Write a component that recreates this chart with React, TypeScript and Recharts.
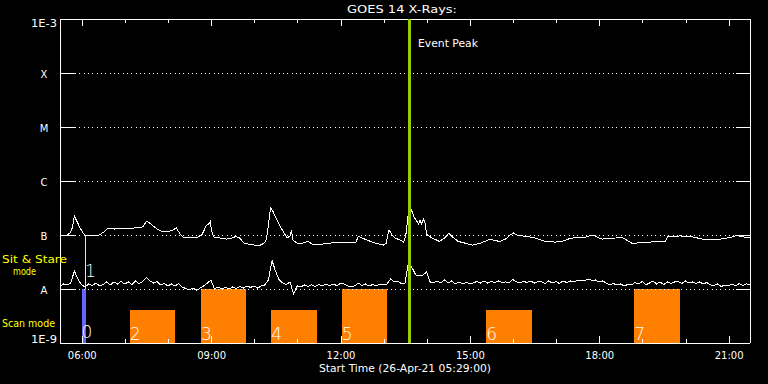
import { ComposedChart, Line, ReferenceArea, ReferenceLine, XAxis, YAxis } from 'recharts';

const FONT = '"DejaVu Sans", sans-serif';

const START = '05:29';
const END = '21:29';
const SHORT_STEP_MIN = 5;

const levelValues = [1e-9, 1e-8, 1e-7, 1e-6, 1e-5, 1e-4, 1e-3];
const levelLabels = ['1E-9', 'A', 'B', 'C', 'M', 'X', '1E-3'];
const hourMarks = [6, 7, 8, 9, 10, 11, 12, 13, 14, 15, 16, 17, 18, 19, 20, 21];
const hourLabels = [6, 9, 12, 15, 18, 21];

// 1-8 A channel, in units of 1e-7 W/m^2
const longChannel: [string, number][] = [
  ['05:29', 1.0], ['05:37', 0.96], ['05:43', 1.09], ['05:46', 1.35], ['05:49', 2.25], ['05:53', 1.74],
  ['05:57', 1.35], ['06:01', 1.09], ['06:04', 1.0], ['06:13', 0.98], ['06:24', 1.0], ['06:30', 1.14],
  ['06:36', 1.35], ['06:45', 1.29], ['06:59', 1.32], ['07:13', 1.35], ['07:24', 1.41], ['07:30', 1.82],
  ['07:37', 1.53], ['07:44', 1.29], ['07:51', 1.16], ['07:59', 1.14], ['08:06', 1.24], ['08:11', 1.35],
  ['08:16', 1.04], ['08:21', 0.9], ['08:30', 0.88], ['08:39', 0.88], ['08:47', 1.04], ['08:53', 1.53],
  ['08:56', 1.6], ['08:58', 1.78], ['09:00', 1.19], ['09:03', 0.92], ['09:12', 0.88], ['09:21', 0.84],
  ['09:28', 0.88], ['09:34', 0.94], ['09:39', 0.88], ['09:45', 0.71], ['09:53', 0.67], ['10:00', 0.65],
  ['10:07', 0.64], ['10:13', 0.71], ['10:16', 0.81], ['10:18', 1.24], ['10:22', 3.16], ['10:25', 2.78],
  ['10:29', 2.15], ['10:35', 1.47], ['10:40', 1.14], ['10:45', 0.88], ['10:49', 0.96], ['10:51', 1.21],
  ['10:53', 0.81], ['10:59', 0.7], ['11:07', 0.71], ['11:14', 0.76], ['11:21', 0.67], ['11:31', 0.67],
  ['11:45', 0.71], ['11:58', 0.72], ['12:12', 0.72], ['12:21', 0.74], ['12:24', 0.96], ['12:26', 0.92],
  ['12:33', 0.84], ['12:40', 0.77], ['12:49', 0.7], ['12:59', 0.65], ['13:03', 0.71], ['13:06', 1.14],
  ['13:07', 1.24], ['13:11', 1.0], ['13:15', 0.88], ['13:22', 0.81], ['13:27', 0.74], ['13:30', 0.96],
  ['13:32', 1.6], ['13:35', 3.67], ['13:38', 2.9], ['13:41', 2.25], ['13:45', 1.82], ['13:48', 1.6],
  ['13:50', 1.9], ['13:52', 1.6], ['13:55', 1.98], ['13:57', 1.67], ['13:59', 1.04], ['14:03', 0.94],
  ['14:10', 0.84], ['14:17', 0.76], ['14:24', 0.88], ['14:30', 1.07], ['14:35', 0.92], ['14:43', 0.76],
  ['14:52', 0.71], ['15:03', 0.65], ['15:13', 0.7], ['15:21', 0.77], ['15:27', 0.83], ['15:34', 0.79],
  ['15:41', 0.76], ['15:49', 0.84], ['15:55', 1.0], ['16:00', 1.09], ['16:06', 0.98], ['16:18', 0.94],
  ['16:30', 0.88], ['16:44', 0.76], ['16:58', 0.74], ['17:09', 0.77], ['17:18', 0.86], ['17:28', 0.9],
  ['17:39', 0.9], ['17:45', 0.96], ['17:51', 1.0], ['17:57', 0.9], ['18:03', 0.84], ['18:14', 0.86],
  ['18:22', 0.88], ['18:31', 0.9], ['18:37', 0.81], ['18:45', 0.7], ['18:52', 0.71], ['19:00', 0.74],
  ['19:10', 0.74], ['19:21', 0.76], ['19:31', 0.76], ['19:35', 0.96], ['19:45', 0.92], ['19:51', 0.96],
  ['20:07', 0.94], ['20:19', 0.86], ['20:30', 0.81], ['20:41', 0.81], ['20:53', 0.86], ['21:02', 0.9],
  ['21:11', 0.98], ['21:20', 0.92], ['21:29', 0.88],
];

// 0.5-4 A channel, one sample every 5 min from 05:29, in units of 1e-8 W/m^2
const shortChannel = [
  1.14, 1.24, 1.19, 1.29, 2.15, 1.53, 1.19, 1.09, 1.24, 1.16,
  1.29, 1.14, 1.21, 1.35, 1.19, 1.35, 1.24, 1.38, 1.24, 1.35,
  1.21, 1.41, 1.26, 1.38, 1.63, 1.41, 1.29, 1.38, 1.19, 1.26,
  1.14, 1.24, 1.14, 1.26, 1.09, 1.02, 0.96, 1.04, 0.94, 1.04,
  1.14, 1.29, 1.47, 1.0, 1.09, 1.0, 1.07, 1.0, 1.09, 1.02,
  1.11, 1.04, 1.14, 1.07, 1.14, 1.04, 1.14, 1.19, 1.47, 3.37,
  2.11, 1.47, 1.29, 1.21, 1.35, 0.81, 1.14, 1.09, 1.19, 1.11,
  1.19, 1.11, 1.21, 1.14, 1.24, 1.14, 1.24, 1.16, 1.26, 1.24,
  1.14, 1.09, 1.14, 1.29, 1.16, 1.24, 1.14, 1.21, 1.14, 1.24,
  1.19, 1.24, 1.53, 1.35, 1.41, 1.26, 1.29, 3.3, 2.45, 1.82,
  1.74, 1.82, 2.06, 1.35, 1.32, 1.38, 1.29, 1.47, 1.29, 1.41,
  1.24, 1.35, 1.24, 1.32, 1.26, 1.29, 1.38, 1.29, 1.41, 1.29,
  1.38, 1.32, 1.41, 1.32, 1.35, 1.29, 1.5, 1.35, 1.29, 1.38,
  1.32, 1.41, 1.29, 1.38, 1.35, 1.26, 1.41, 1.29, 1.38, 1.26,
  1.41, 1.32, 1.41, 1.35, 1.44, 1.47, 1.44, 1.53, 1.44, 1.47,
  1.35, 1.41, 1.29, 1.19, 1.26, 1.19, 1.24, 1.14, 1.21, 1.19,
  1.32, 1.24, 1.38, 1.19, 1.29, 1.41, 1.24, 1.35, 1.21, 1.35,
  1.26, 1.35, 1.38, 1.26, 1.41, 1.29, 1.35, 1.26, 1.35, 1.24,
  1.32, 1.19, 1.16, 1.24, 1.11, 1.19, 1.14, 1.24, 1.14, 1.26,
  1.16, 1.24, 1.19,
];

const sitStare = { start: '05:59', end: '06:05', top: 1e-8, label: '0' };
const pointing = { at: '06:05', from: 1e-8, to: 1e-7, label: '1' };
const scanStarts = ['07:06', '08:45', '10:23', '12:01', '15:22', '18:48'];
const scanEnds = ['08:09', '09:48', '11:26', '13:04', '16:25', '19:51'];
const scanTops = [4.1e-9, 1e-8, 4.1e-9, 1e-8, 4.1e-9, 1e-8];
const scanLabels = ['2', '3', '4', '5', '6', '7'];
const eventPeak = '13:35';

const toHours = (hhmm: string) => {
  const [h, m] = hhmm.split(':').map(Number);
  return h + m / 60;
};

const rows = [
  ...longChannel.map(([t, v]) => ({ t: toHours(t), long: v * 1e-7 })),
  ...shortChannel.map((v, i) => ({ t: toHours(START) + (i * SHORT_STEP_MIN) / 60, short: v * 1e-8 })),
].sort((a, b) => a.t - b.t);

const pad = (n: number) => String(n).padStart(2, '0');

const XTick = ({ x, y, payload }: any) => (
  <text x={x} y={y + 16} textAnchor="middle" fill="#fff" fontSize={10} fontFamily={FONT}>
    {`${pad(payload.value)}:00`}
  </text>
);

const YTick = ({ x, y, payload }: any) => {
  const i = levelValues.findIndex((v) => Math.abs(Math.log10(v) - Math.log10(payload.value)) < 1e-6);
  const text = levelLabels[i];
  if (i === 0 || i === levelValues.length - 1) {
    return (
      <text
        x={x - 3}
        y={i === 0 ? y : y + 8}
        textAnchor="end"
        fill="#fff"
        fontSize={10}
        fontFamily={FONT}
        textLength={26}
        lengthAdjust="spacingAndGlyphs"
      >
        {text}
      </text>
    );
  }
  return (
    <text x={x - 16} y={y + 4.5} textAnchor="middle" fill="#fff" fontSize={10} fontFamily={FONT}>
      {text}
    </text>
  );
};

// inward tick marks on top and bottom frame
const hourTick = (major: boolean) => (p: any) => {
  const top = Math.min(p.y1, p.y2);
  const bottom = Math.max(p.y1, p.y2);
  const len = major ? 7 : 4;
  return (
    <g>
      <line x1={p.x1} x2={p.x1} y1={bottom} y2={bottom - len} stroke="#fff" />
      <line x1={p.x1} x2={p.x1} y1={top} y2={top + len} stroke="#fff" />
    </g>
  );
};

// class level: solid tick at each side, dotted in between
const levelLine = (p: any) => {
  const left = Math.min(p.x1, p.x2);
  const right = Math.max(p.x1, p.x2);
  return (
    <g>
      <line x1={left} x2={left + 15} y1={p.y1} y2={p.y1} stroke="#fff" />
      <line x1={left + 15} x2={right - 14} y1={p.y1} y2={p.y1} stroke="#fff" strokeDasharray="1 3.33" />
      <line x1={right - 14} x2={right} y1={p.y1} y2={p.y1} stroke="#fff" />
    </g>
  );
};

const numberLabel = (text: string, dx: number, lift: number) => (props: any) => {
  const vb = props.viewBox || props;
  return (
    <text x={vb.x + dx} y={vb.y + vb.height - lift} fill="#fff" fontSize={17} fontFamily={FONT} fontWeight={300}>
      {text}
    </text>
  );
};

export default function App() {
  const startH = toHours(START);
  const endH = toHours(END);
  return (
    <div
      style={{
        position: 'fixed',
        left: 0,
        top: 0,
        width: 768,
        height: 384,
        background: '#000',
        shapeRendering: 'crispEdges',
      }}
    >
      <ComposedChart width={768} height={384} data={rows} margin={{ top: 19, right: 18, bottom: 0, left: 0 }}>
        <XAxis
          dataKey="t"
          type="number"
          domain={[startH, endH]}
          ticks={hourLabels}
          interval={0}
          height={41}
          tickSize={0}
          tickMargin={0}
          tickLine={false}
          axisLine={{ stroke: '#fff' }}
          tick={<XTick />}
          allowDataOverflow
        />
        <YAxis
          type="number"
          scale="log"
          domain={[1e-9, 1e-3]}
          ticks={levelValues}
          interval={0}
          width={60}
          tickSize={0}
          tickMargin={0}
          tickLine={false}
          axisLine={{ stroke: '#fff' }}
          tick={<YTick />}
          allowDataOverflow
        />
        <ReferenceLine y={1e-3} stroke="#fff" />
        <ReferenceLine x={endH} stroke="#fff" />
        {hourMarks.map((h) => (
          <ReferenceLine key={`h${h}`} x={h} shape={hourTick(h % 3 === 0)} />
        ))}
        {levelValues.slice(1, -1).map((v) => (
          <ReferenceLine key={`l${v}`} y={v} shape={levelLine} />
        ))}
        {scanStarts.map((s, i) => (
          <ReferenceArea
            key={`scan${i}`}
            x1={toHours(s)}
            x2={toHours(scanEnds[i])}
            y1={1e-9}
            y2={scanTops[i]}
            fill="#ff8000"
            fillOpacity={1}
            stroke="none"
            label={numberLabel(scanLabels[i], 0, 3.5)}
          />
        ))}
        <ReferenceArea
          x1={toHours(sitStare.start)}
          x2={toHours(sitStare.end)}
          y1={1e-9}
          y2={sitStare.top}
          fill="#6464ff"
          fillOpacity={1}
          stroke="none"
          label={numberLabel(sitStare.label, 0, 5.5)}
        />
        <ReferenceLine
          segment={[
            { x: toHours(pointing.at), y: pointing.from },
            { x: toHours(pointing.at), y: pointing.to },
          ]}
          stroke="#ffff00"
          label={numberLabel(pointing.label, -1, 12)}
        />
        <Line
          dataKey="long"
          stroke="#fff"
          strokeWidth={1}
          dot={false}
          type="linear"
          connectNulls
          isAnimationActive={false}
        />
        <Line
          dataKey="short"
          stroke="#fff"
          strokeWidth={1}
          dot={false}
          type="linear"
          connectNulls
          isAnimationActive={false}
        />
        <ReferenceLine x={toHours(eventPeak)} stroke="#99cc00" strokeWidth={3} />
      </ComposedChart>
      <svg
        width={768}
        height={384}
        style={{ position: 'absolute', left: 0, top: 0, pointerEvents: 'none' }}
        fontFamily={FONT}
      >
        <text x={402} y={13} textAnchor="middle" fill="#fff" fontSize={11} textLength={110} lengthAdjust="spacingAndGlyphs">
          GOES 14 X-Rays:
        </text>
        <text x={418} y={47} fill="#fff" fontSize={11} textLength={60} lengthAdjust="spacingAndGlyphs">
          Event Peak
        </text>
        <text x={405} y={372} textAnchor="middle" fill="#fff" fontSize={10} textLength={172} lengthAdjust="spacingAndGlyphs">
          Start Time (26-Apr-21 05:29:00)
        </text>
        <text x={2} y={263} fill="#ffff00" fontSize={11} textLength={65} lengthAdjust="spacingAndGlyphs">
          Sit &amp; Stare
        </text>
        <text x={13} y={275} fill="#ffff00" fontSize={11} textLength={23} lengthAdjust="spacingAndGlyphs">
          mode
        </text>
        <text x={2} y={327} fill="#ffff00" fontSize={11} textLength={53} lengthAdjust="spacingAndGlyphs">
          Scan mode
        </text>
      </svg>
    </div>
  );
}
